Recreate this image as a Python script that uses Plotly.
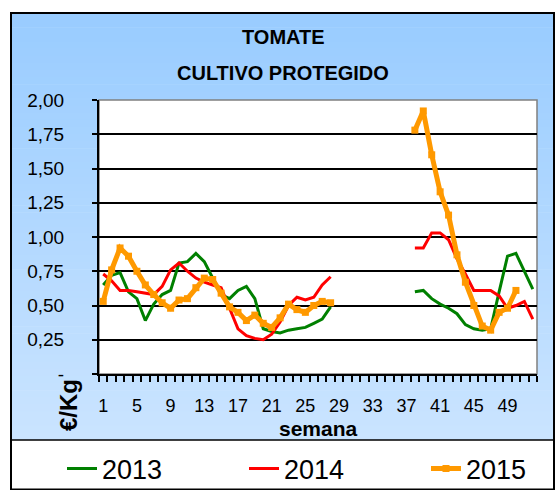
import plotly.graph_objects as go

weeks = list(range(1, 53))
N = None
y2013 = [0.65, 0.72, 0.74, 0.60, 0.55, 0.39, 0.51, 0.58, 0.61, 0.81, 0.82, 0.88, 0.82, 0.70,
         0.58, 0.55, 0.61, 0.64, 0.55, 0.33, 0.31, 0.30, 0.32, 0.33, 0.34, 0.37, 0.40, 0.49,
         N, N, N, N, N, N, N, N, N,
         0.60, 0.61, 0.55, 0.51, 0.48, 0.44, 0.36, 0.33, 0.32, 0.33, 0.60, 0.86, 0.88, 0.75, 0.62]
y2014 = [0.73, 0.68, 0.61, 0.61, 0.60, 0.59, 0.58, 0.64, 0.76, 0.81, 0.75, 0.70, 0.67, 0.65,
         0.63, 0.48, 0.33, 0.28, 0.26, 0.25, 0.29, 0.38, 0.50, 0.56, 0.54, 0.56, 0.65, 0.71,
         N, N, N, N, N, N, N, N, N,
         0.92, 0.92, 1.03, 1.03, 0.98, 0.84, 0.73, 0.61, 0.61, 0.61, 0.57, 0.48, 0.50, 0.53, 0.40]
y2015 = [0.53, 0.76, 0.92, 0.86, 0.75, 0.65, 0.58, 0.52, 0.48, 0.54, 0.55, 0.63, 0.70, 0.69,
         0.59, 0.49, 0.45, 0.39, 0.43, 0.37, 0.34, 0.41, 0.51, 0.47, 0.45, 0.50, 0.53, 0.52,
         N, N, N, N, N, N, N, N, N,
         1.78, 1.92, 1.60, 1.33, 1.16, 0.87, 0.67, 0.50, 0.35, 0.32, 0.45, 0.48, 0.61,
         N, N]
ytick_vals = [0, 0.25, 0.5, 0.75, 1.0, 1.25, 1.5, 1.75, 2.0]
ytick_text = ["-", "0,25", "0,50", "0,75", "1,00", "1,25", "1,50", "1,75", "2,00"]
xtick_vals = list(range(1, 53, 4))
xtick_text = [str(v) for v in xtick_vals]

W, H = 558, 490
L, R, T, B = 99, 537, 100, 374
FONT = "Liberation Sans, Arial, sans-serif"

def px(x):
    return (x - L) / (R - L)

def py(y):
    return (B - y) / (B - T)

fig = go.Figure()
fig.add_trace(go.Scatter(x=weeks, y=y2013, name="2013", mode="lines", legend="legend",
                         line=dict(color="#008000", width=3)))
fig.add_trace(go.Scatter(x=weeks, y=y2014, name="2014", mode="lines", legend="legend2",
                         line=dict(color="#FF0000", width=3)))
fig.add_trace(go.Scatter(x=weeks, y=y2015, name="2015", mode="lines+markers", legend="legend3",
                         line=dict(color="#FF9900", width=5),
                         marker=dict(symbol="square", size=7, color="#FF9900")))

shapes = []
# gradient background
top, bot = 13, 440
nb = 60
c0 = (153, 204, 255)
c1 = (202, 228, 255)
for i in range(nb):
    t = i / (nb - 1)
    col = "rgb(%d,%d,%d)" % tuple(round(c0[k] + (c1[k] - c0[k]) * t) for k in range(3))
    y0 = top + (bot - top) * i / nb
    y1 = top + (bot - top) * (i + 1) / nb + 0.6
    shapes.append(dict(type="rect", xref="paper", yref="paper", layer="below",
                       x0=px(11), x1=px(554), y0=py(y1), y1=py(y0),
                       fillcolor=col, line=dict(width=0)))
# plot area white
shapes.append(dict(type="rect", xref="paper", yref="paper", layer="below",
                   x0=0, x1=1, y0=0, y1=1, fillcolor="white",
                   line=dict(color="#808080", width=1.5)))
# legend area
shapes.append(dict(type="rect", xref="paper", yref="paper", layer="below",
                   x0=px(11), x1=px(554), y0=py(490), y1=py(440), fillcolor="white",
                   line=dict(width=0)))
shapes.append(dict(type="line", xref="paper", yref="paper", layer="above",
                   x0=px(11), x1=px(554), y0=py(440), y1=py(440),
                   line=dict(color="black", width=1.5)))
# outer frame
shapes.append(dict(type="rect", xref="paper", yref="paper", layer="above",
                   x0=px(11), x1=px(554), y0=py(489.5), y1=py(13),
                   line=dict(color="black", width=2)))

annotations = [
    dict(text="<b>TOMATE</b>", xref="paper", yref="paper", x=px(283), y=py(37),
         showarrow=False, font=dict(family=FONT, size=20, color="black"),
         xanchor="center", yanchor="middle"),
    dict(text="<b>CULTIVO PROTEGIDO</b>", xref="paper", yref="paper", x=px(283), y=py(73),
         showarrow=False, font=dict(family=FONT, size=20, color="black"),
         xanchor="center", yanchor="middle"),
    dict(text="<b>semana</b>", xref="paper", yref="paper", x=0.5, y=py(428),
         showarrow=False, font=dict(family=FONT, size=21, color="black"),
         xanchor="center", yanchor="middle"),
    dict(text="<b>€/Kg</b>", xref="paper", yref="paper", x=px(68), y=py(405),
         showarrow=False, textangle=-90, font=dict(family=FONT, size=24, color="black"),
         xanchor="center", yanchor="middle"),
]

def leg(xpix):
    return dict(orientation="h", x=px(xpix), xanchor="left", y=py(469), yanchor="middle",
                font=dict(family=FONT, size=27, color="black"),
                bgcolor="rgba(0,0,0,0)", borderwidth=0)

fig.update_layout(
    width=W, height=H,
    margin=dict(l=L, r=W - R, t=T, b=H - B, pad=0, autoexpand=False),
    paper_bgcolor="white",
    plot_bgcolor="rgba(0,0,0,0)",
    shapes=shapes,
    annotations=annotations,
    showlegend=True,
    legend=leg(62),
    legend2=leg(244),
    legend3=leg(426),
    font=dict(family=FONT, color="black"),
)
fig.update_xaxes(range=[0.5, 52.5], tickmode="array", tickvals=xtick_vals, ticktext=xtick_text,
                 ticks="", showgrid=False, zeroline=False,
                 showline=True, linecolor="black", linewidth=2,
                 tickfont=dict(family=FONT, size=18, color="black"),
                 ticklabelstandoff=14,
                 minor=dict(tickmode="array", tickvals=[i + 0.5 for i in range(0, 53)],
                            ticks="outside", ticklen=6, tickcolor="black", tickwidth=1.5,
                            showgrid=False))
fig.update_yaxes(range=[0, 2], tickmode="array", tickvals=ytick_vals, ticktext=ytick_text,
                 ticks="outside", ticklen=5, tickcolor="black", tickwidth=1.5,
                 showgrid=True, gridcolor="black", gridwidth=1.5, zeroline=False,
                 showline=True, linecolor="black", linewidth=2,
                 tickfont=dict(family=FONT, size=19, color="black"),
                 ticklabelstandoff=24)

fig.write_html("out.html", config={"displayModeBar": False},
               post_script="document.body.style.margin='0px';")
